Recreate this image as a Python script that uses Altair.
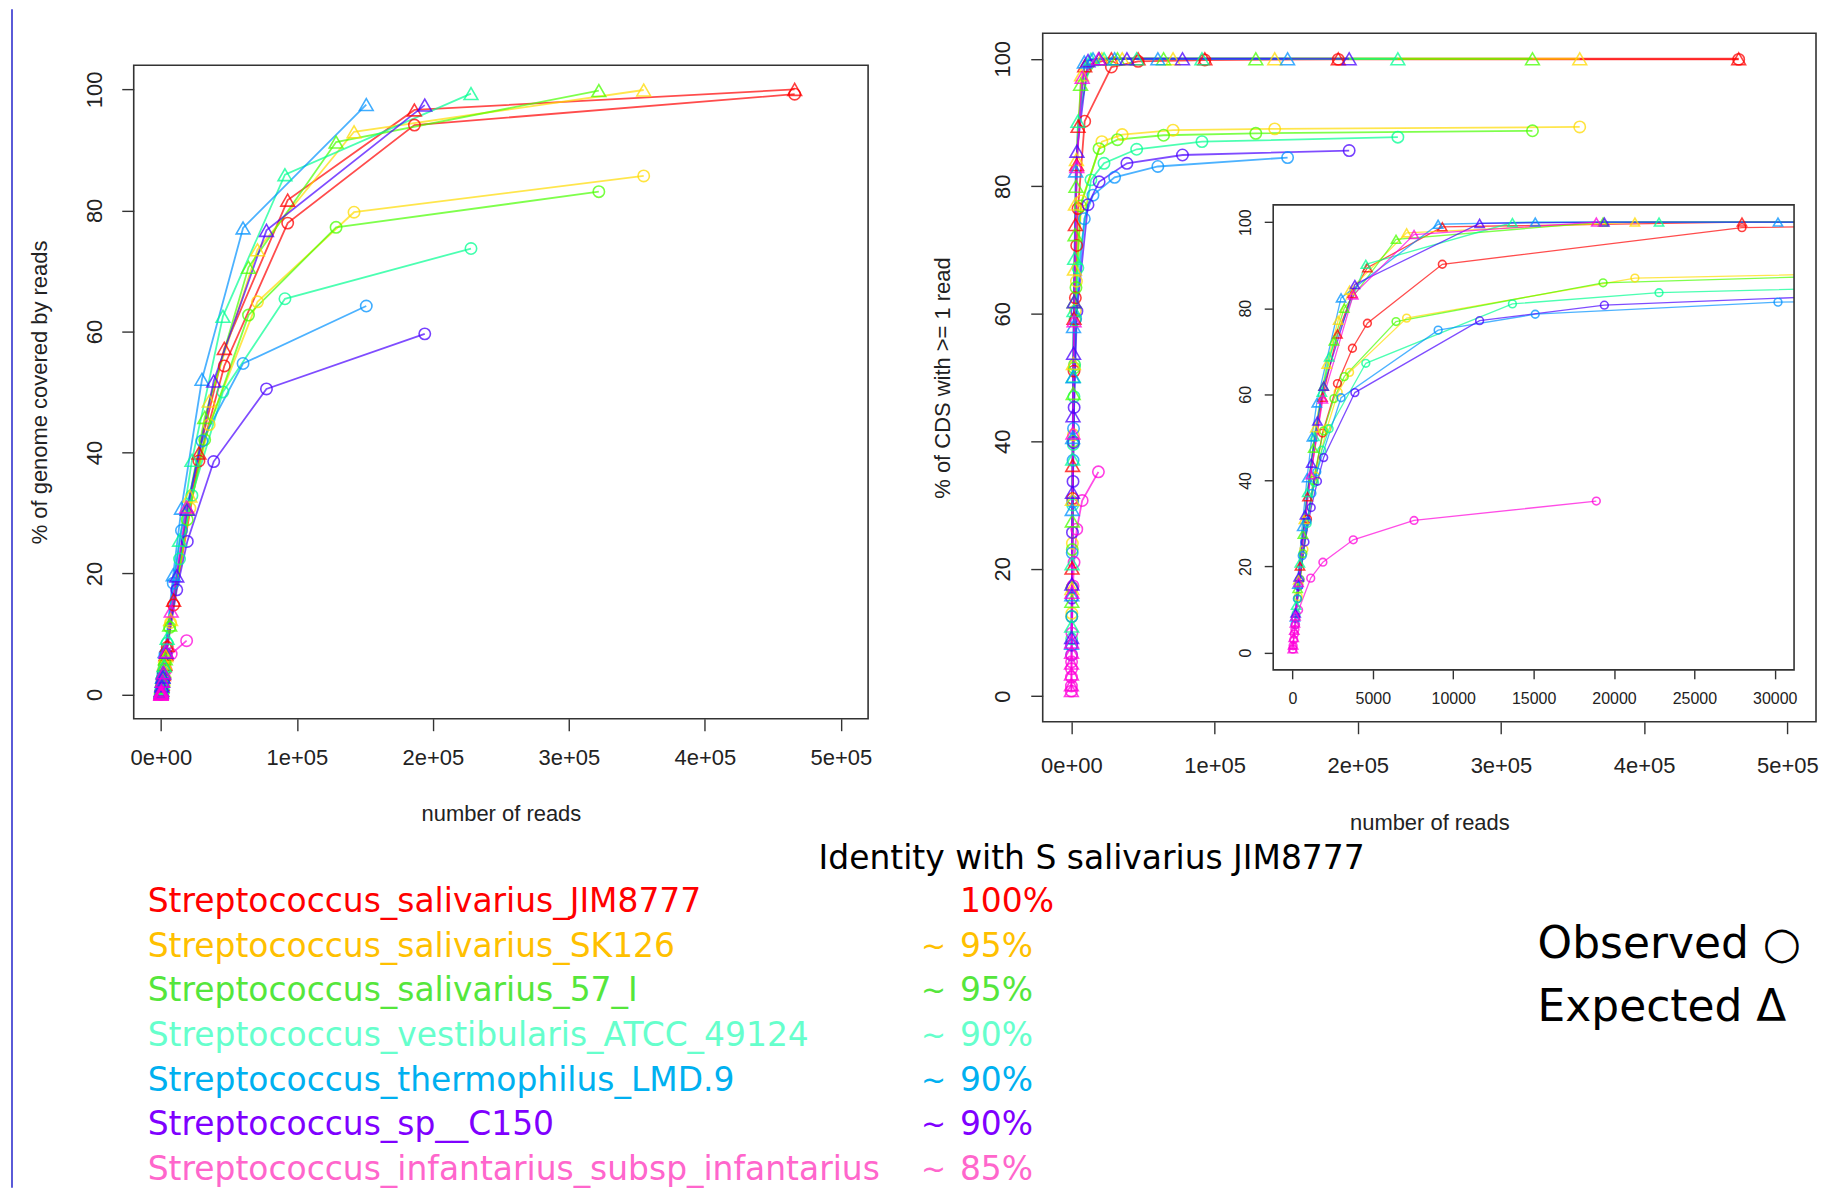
import altair as alt
import pandas as pd

# ---------------- data ----------------
SPECIES = [
    "Streptococcus_salivarius_JIM8777",
    "Streptococcus_salivarius_SK126",
    "Streptococcus_salivarius_57_I",
    "Streptococcus_vestibularis_ATCC_49124",
    "Streptococcus_thermophilus_LMD.9",
    "Streptococcus_sp__C150",
    "Streptococcus_infantarius_subsp_infantarius",
]
IDENTITY = ["100%", "~ 95%", "~ 95%", "~ 90%", "~ 90%", "~ 90%", "~ 85%"]

PLOT_COLORS = ["#FF0000", "#FFDB00", "#49FF00", "#00FF92", "#0092FF", "#4900FF", "#FF00DB"]
TEXT_COLORS = ["#FF0000", "#FFC000", "#55E63C", "#66FFCC", "#00B0F0", "#7F00FF", "#FF66CC"]

READS = [
    [466000, 186400, 93200, 46600, 27960, 9320, 4660, 3728, 2796, 1864, 932, 466],
    [355000, 142000, 71000, 35500, 21300, 7100, 3550, 2840, 2130, 1420, 710, 355],
    [322000, 128800, 64400, 32200, 19320, 6440, 3220, 2576, 1932, 1288, 644, 322],
    [228000, 91200, 45600, 22800, 13680, 4560, 2280, 1824, 1368, 912, 456, 228],
    [151000, 60400, 30200, 15100, 9060, 3020, 1510, 1208, 906, 604, 302, 151],
    [194000, 77600, 38800, 19400, 11640, 3880, 1940, 1552, 1164, 776, 388, 194],
    [18900, 7560, 3780, 1890, 1134, 378, 189, 151, 113, 76, 38, 19],
]

GENOME_OBSERVED = [
    [99.2, 94.1, 77.9, 54.3, 38.6, 14.8, 7.8, 6.3, 4.8, 3.2, 1.6, 0.8],
    [85.7, 79.7, 64.9, 44.6, 30.8, 11.9, 6.2, 5.0, 3.7, 2.5, 1.25, 0.6],
    [83.1, 77.2, 62.7, 42.1, 28.9, 11.1, 5.7, 4.6, 3.4, 2.3, 1.15, 0.6],
    [73.7, 65.4, 50.0, 32.9, 22.4, 8.5, 4.4, 3.5, 2.7, 1.8, 0.9, 0.45],
    [64.2, 54.7, 41.9, 27.1, 18.4, 6.7, 3.4, 2.8, 2.1, 1.4, 0.7, 0.35],
    [59.6, 50.5, 38.5, 25.3, 17.3, 6.7, 3.4, 2.8, 2.1, 1.4, 0.7, 0.35],
    [8.9, 6.7, 4.1, 2.3, 1.5, 0.55, 0.3, 0.25, 0.2, 0.15, 0.08, 0.04],
]
GENOME_EXPECTED = [
    [100.0, 96.6, 81.7, 57.2, 39.9, 15.6, 8.1, 6.6, 5.0, 3.3, 1.7, 0.8],
    [99.9, 93.0, 73.5, 48.5, 32.8, 12.4, 6.4, 5.2, 3.9, 2.6, 1.3, 0.7],
    [99.8, 91.3, 70.6, 45.8, 30.7, 11.5, 5.9, 4.8, 3.6, 2.4, 1.2, 0.6],
    [99.3, 85.9, 62.5, 38.7, 25.5, 9.3, 4.8, 3.8, 2.9, 1.9, 1.0, 0.5],
    [97.5, 77.1, 52.1, 30.8, 19.8, 7.1, 3.6, 2.9, 2.2, 1.5, 0.7, 0.4],
    [97.4, 76.7, 51.8, 30.6, 19.6, 7.0, 3.6, 2.9, 2.2, 1.4, 0.7, 0.4],
    [31.0, 13.8, 7.1, 3.6, 2.2, 0.7, 0.4, 0.3, 0.2, 0.15, 0.07, 0.04],
]
CDS_OBSERVED = [
    [99.9, 99.9, 99.8, 99.6, 98.7, 90.2, 76.5, 70.7, 62.5, 51.0, 31.0, 17.0],
    [89.3, 89.0, 88.8, 88.1, 87.0, 77.7, 65.1, 60.5, 52.0, 41.0, 24.0, 13.0],
    [88.7, 88.3, 88.0, 87.3, 85.9, 76.9, 64.1, 59.0, 51.5, 40.0, 23.0, 12.5],
    [87.7, 87.0, 85.8, 83.6, 81.0, 67.2, 52.0, 47.0, 39.5, 30.0, 17.0, 9.0],
    [84.5, 83.1, 81.4, 78.6, 74.9, 59.2, 42.0, 37.0, 30.5, 22.5, 12.5, 6.5],
    [85.6, 84.9, 83.6, 80.7, 77.1, 60.4, 45.3, 39.8, 33.7, 25.7, 15.4, 8.0],
    [35.2, 30.7, 26.2, 21.0, 17.3, 9.9, 6.5, 5.4, 4.3, 3.0, 1.6, 0.8],
]
CDS_EXPECTED = [
    [100, 100, 100, 100, 100, 98.9, 89.4, 83.4, 74.0, 59.3, 36.2, 20.1],
    [100, 100, 100, 100, 100, 97.5, 84.2, 77.2, 67.0, 52.2, 30.9, 16.9],
    [100, 100, 100, 100, 100, 96.0, 80.0, 72.4, 61.9, 47.5, 27.5, 14.9],
    [100, 100, 100, 100, 99.9, 90.2, 68.7, 60.5, 50.2, 37.2, 20.8, 11.0],
    [100, 100, 100, 100, 99.5, 82.4, 58.0, 50.1, 40.6, 29.3, 15.9, 8.3],
    [100, 100, 100, 100, 99.7, 85.5, 61.9, 53.8, 44.0, 32.0, 17.6, 9.2],
    [100, 97.1, 83.1, 58.9, 41.3, 16.3, 8.5, 6.9, 5.2, 3.5, 1.8, 0.9],
]

MAIN_X_TICKS = [0, 100000, 200000, 300000, 400000, 500000]
INSET_X_TICKS = [0, 5000, 10000, 15000, 20000, 25000, 30000]
Y_TICKS = [0, 20, 40, 60, 80, 100]

# ---------------- tables ----------------
rows = []
for i, sp in enumerate(SPECIES):
    for j, n in enumerate(READS[i]):
        rows.append({"species": sp, "reads": n, "kind": "Observed",
                     "genome": GENOME_OBSERVED[i][j], "cds": CDS_OBSERVED[i][j]})
        rows.append({"species": sp, "reads": n, "kind": "Expected",
                     "genome": GENOME_EXPECTED[i][j], "cds": CDS_EXPECTED[i][j]})
df = pd.DataFrame(rows)
legend_df = pd.DataFrame({
    "species": SPECIES,
    "tilde": [s.split(" ")[0] if s.startswith("~") else "" for s in IDENTITY],
    "number": [s.split(" ")[-1] for s in IDENTITY],
})

# ---------------- layout ----------------
W, H = 1815, 1181
FONT = "Liberation Sans"
TXT = "DejaVu Sans"

MAIN_XDOM = [-20000, 520000]
INSET_XDOM = [-1200, 31200]
YDOM = [-4, 104]

LEFT_X, LEFT_Y = [126, 862], [711, 56]
RIGHT_X, RIGHT_Y = [1037, 1812], [714, 24]
INSET_X, INSET_Y = [1268, 1790], [662, 196]

SCI = "datum.value == 0 ? '0e+00' : format(datum.value / 100000, 'd') + 'e+05'"


def panel(yfield, xdom, xrng, yrng, xaxis, yaxis, csize, tsize, lw, mask=False):
    xs = alt.Scale(domain=xdom, range=xrng, nice=False, zero=False)
    ys = alt.Scale(domain=YDOM, range=yrng, nice=False, zero=False)
    cs = alt.Scale(domain=SPECIES, range=PLOT_COLORS)
    X = alt.X("reads:Q", scale=xs, axis=xaxis)
    Y = alt.Y(f"{yfield}:Q", scale=ys, axis=yaxis)
    C = alt.Color("species:N", scale=cs, legend=None)
    base = alt.Chart(df)
    lines = base.mark_line(strokeWidth=lw, opacity=0.7).encode(
        x=X, y=Y, color=C, detail="kind:N", order="reads:Q")
    circ = base.transform_filter(alt.datum.kind == "Observed").mark_point(
        shape="circle", filled=False, size=csize, strokeWidth=1.6, opacity=0.75
    ).encode(x=X, y=Y, color=C)
    tri = base.transform_filter(alt.datum.kind == "Expected").mark_point(
        shape="triangle-up", filled=False, size=tsize, strokeWidth=1.6, opacity=0.75
    ).encode(x=X, y=Y, color=C)
    layers = [lines, circ, tri]
    if mask:
        mdf = pd.DataFrame({"x0": [xdom[1]], "x1": [700000], "y0": [YDOM[0]], "y1": [YDOM[1]]})
        layers.append(alt.Chart(mdf).mark_rect(color="white").encode(
            x=alt.X("x0:Q", scale=xs, axis=xaxis), x2="x1:Q",
            y=alt.Y("y0:Q", scale=ys, axis=yaxis), y2="y1:Q"))
    bdf = pd.DataFrame({"x0": [xdom[0]], "x1": [xdom[1]], "y0": [YDOM[0]], "y1": [YDOM[1]]})
    layers.append(alt.Chart(bdf).mark_rect(fillOpacity=0, stroke="#333333", strokeWidth=1.6).encode(
        x=alt.X("x0:Q", scale=xs, axis=xaxis), x2="x1:Q",
        y=alt.Y("y0:Q", scale=ys, axis=yaxis), y2="y1:Q"))
    return alt.layer(*layers)


def x_axis(values, offset, fs, pad, title, tpad, tick, expr=None):
    kw = dict(values=values, orient="bottom", offset=offset, tickSize=tick,
              labelFontSize=fs, labelPadding=pad, title=title, titleFontSize=22,
              titlePadding=tpad, labelFlush=False, labelOverlap=False)
    if expr:
        kw["labelExpr"] = expr
    else:
        kw["format"] = "d"
    return alt.Axis(**kw)


def y_axis(offset, fs, pad, title, tpad, tick):
    return alt.Axis(values=Y_TICKS, orient="left", offset=offset, tickSize=tick,
                    labelFontSize=fs, labelPadding=pad, labelAngle=270,
                    labelAlign="center", labelBaseline="alphabetic",
                    title=title, titleFontSize=22, titlePadding=tpad,
                    labelOverlap=False)


left = panel("genome", MAIN_XDOM, LEFT_X, LEFT_Y,
             x_axis(MAIN_X_TICKS, LEFT_Y[0] - H, 22, 17, "number of reads", 35, 12, SCI),
             y_axis(-LEFT_X[0], 22, 20, "% of genome covered by reads", 32, 12),
             130, 190, 1.8)
right = panel("cds", MAIN_XDOM, RIGHT_X, RIGHT_Y,
              x_axis(MAIN_X_TICKS, RIGHT_Y[0] - H, 22, 22, "number of reads", 36, 12, SCI),
              y_axis(-RIGHT_X[0], 22, 21, "% of CDS with >= 1 read", 37, 12),
              130, 190, 1.8)
inset = panel("cds", INSET_XDOM, INSET_X, INSET_Y,
              x_axis(INSET_X_TICKS, INSET_Y[0] - H, 16, 12, "", 0, 9),
              y_axis(-INSET_X[0], 16, 14, "", 0, 9),
              60, 85, 1.3, mask=True)

name_y = alt.Y("species:N", axis=None,
               scale=alt.Scale(type="point", domain=SPECIES, range=[895, 1163], padding=0))
name_c = alt.Color("species:N", legend=None, scale=alt.Scale(domain=SPECIES, range=TEXT_COLORS))
names = alt.Chart(legend_df).mark_text(font=TXT, fontSize=33, align="left", baseline="middle").encode(
    x=alt.value(140), y=name_y, text="species:N", color=name_c)
tildes = alt.Chart(legend_df).mark_text(font=TXT, fontSize=30, align="left", baseline="middle").encode(
    x=alt.value(915), y=name_y, text="tilde:N", color=name_c)
numbers = alt.Chart(legend_df).mark_text(font=TXT, fontSize=33, align="left", baseline="middle").encode(
    x=alt.value(954), y=name_y, text="number:N", color=name_c)

header = alt.Chart(pd.DataFrame({"t": ["Identity with S salivarius JIM8777"]})).mark_text(
    font=TXT, fontSize=33, align="center", baseline="middle", color="black").encode(
    x=alt.value(1086), y=alt.value(852), text="t:N")
obs = alt.Chart(pd.DataFrame({"t": ["Observed \u25cb"]})).mark_text(
    font=TXT, fontSize=44, align="left", baseline="middle", color="black").encode(
    x=alt.value(1533), y=alt.value(938), text="t:N")
exp_ = alt.Chart(pd.DataFrame({"t": ["Expected \u0394"]})).mark_text(
    font=TXT, fontSize=44, align="left", baseline="middle", color="black").encode(
    x=alt.value(1533), y=alt.value(1001), text="t:N")
vline = alt.Chart(pd.DataFrame({"a": [0]})).mark_rule(color="#5A5AD8", strokeWidth=2).encode(
    x=alt.value(4), y=alt.value(0), y2=alt.value(H))

chart = alt.layer(left, inset, right, names, tildes, numbers, header, obs, exp_, vline).resolve_scale(
    x="independent", y="independent", color="independent"
).properties(
    width=W, height=H, padding=0, autosize=alt.AutoSizeParams(type="none")
).configure_view(stroke=None).configure_axis(
    labelFont=FONT, titleFont=FONT, labelColor="#222222", titleColor="#222222",
    titleFontWeight="normal", domain=False, grid=False, tickColor="#333333", tickWidth=1.4
)

chart.save("out.html", embed_options={"renderer": "svg", "actions": False})
